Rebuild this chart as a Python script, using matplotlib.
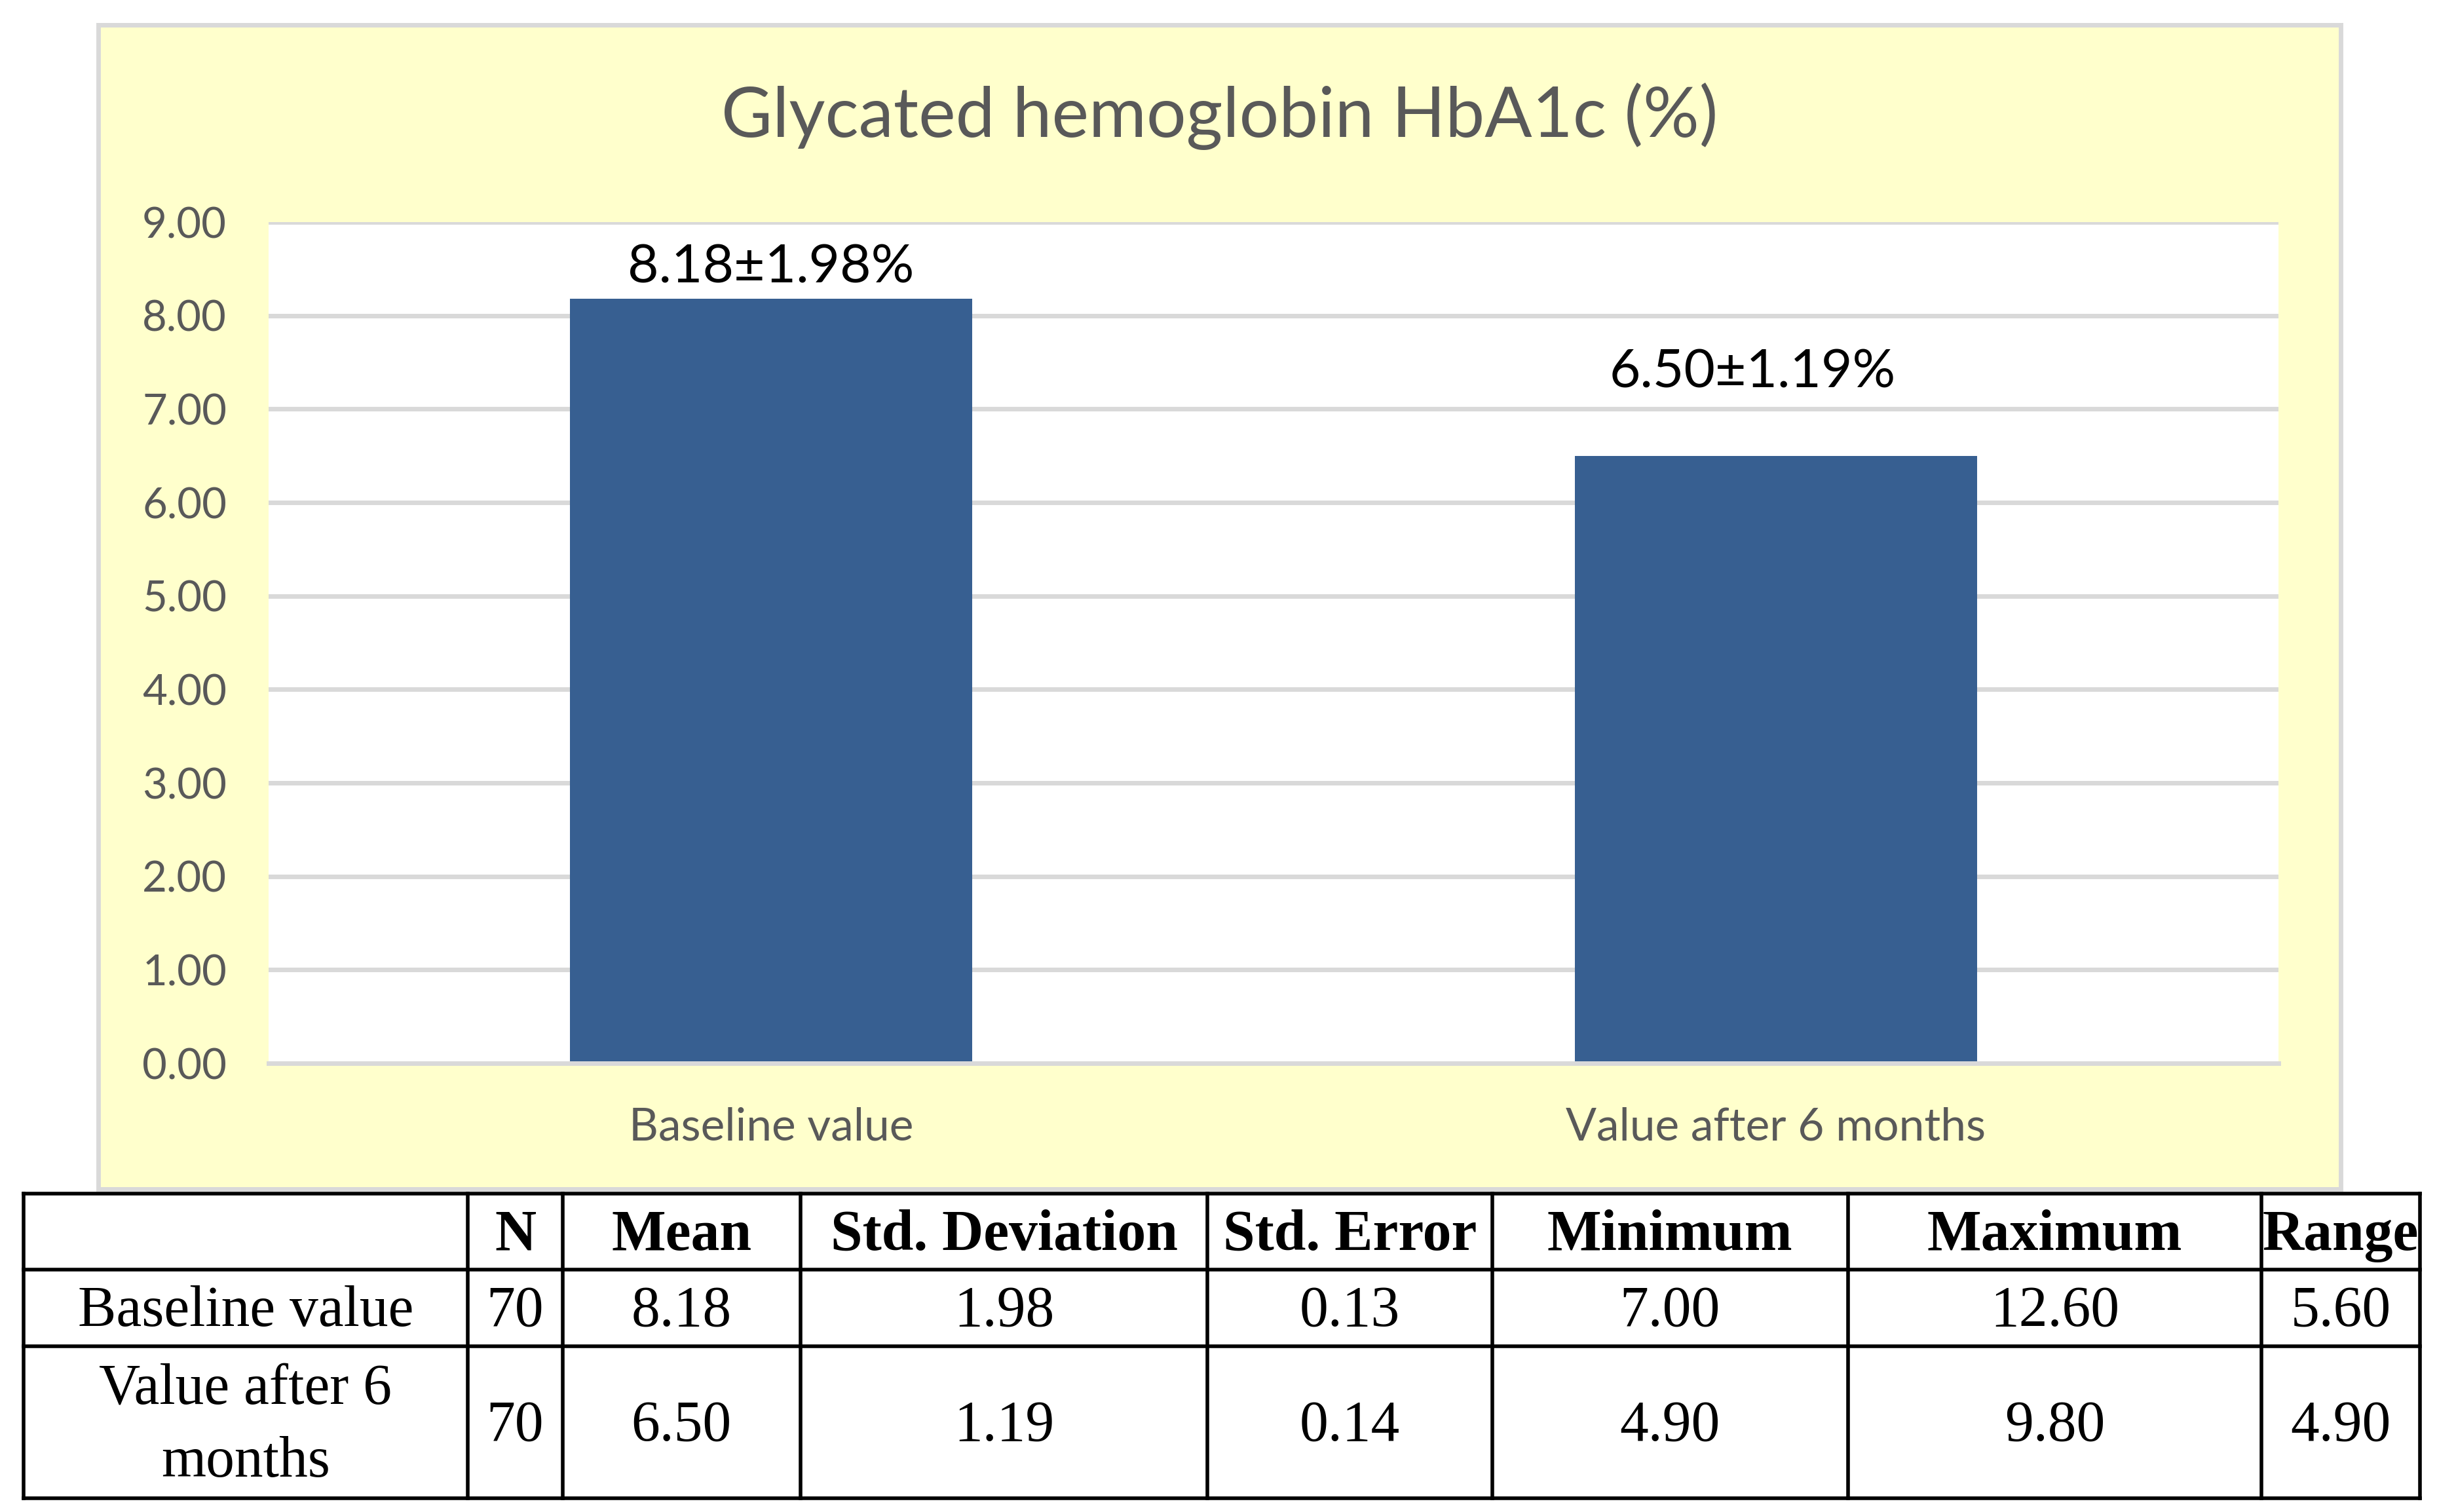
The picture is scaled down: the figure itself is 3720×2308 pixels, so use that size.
import matplotlib
matplotlib.use("Agg")
import matplotlib.pyplot as plt
from matplotlib.patches import Rectangle

# ---------------- data ----------------
categories = ["Baseline value", "Value after 6 months"]
means = [8.18, 6.50]
sds = [1.98, 1.19]
bar_labels = ["8.18±1.98%", "6.50±1.19%"]
yticks = [0, 1, 2, 3, 4, 5, 6, 7, 8, 9]
title = "Glycated hemoglobin HbA1c (%)"

table_header = ["", "N", "Mean", "Std. Deviation", "Std. Error", "Minimum", "Maximum", "Range"]
table_row_labels = ["Baseline value", "Value after 6\nmonths"]
table_n = ["70", "70"]
table_mean = ["8.18", "6.50"]
table_sd = ["1.98", "1.19"]
table_se = ["0.13", "0.14"]
table_min = ["7.00", "4.90"]
table_max = ["12.60", "9.80"]
table_range = ["5.60", "4.90"]

# ---------------- layout ----------------
W, H = 3720, 2308
DPI = 100
fig = plt.figure(figsize=(W / DPI, H / DPI), dpi=DPI)
fig.patch.set_facecolor("white")

def fx(px):
    return px / W

def fy(py):
    return 1 - py / H

chart_font = ["Lato", "DejaVu Sans"]
table_font = ["Liberation Serif", "DejaVu Serif"]
GRAY = "#D9D9D9"
TXT_GRAY = "#595959"
BAR = "#375F91"
YELLOW = "#FFFFCC"

# yellow chart box (drawn behind everything)
box = Rectangle((fx(150), fy(1815)), fx(3573) - fx(150), fy(38) - fy(1815),
                transform=fig.transFigure, facecolor=YELLOW, edgecolor=GRAY,
                linewidth=5, zorder=-10)
fig.patches.append(box)

fig.text(fx(1862), fy(178), title, ha="center", va="center",
         fontsize=77, color=TXT_GRAY, family=chart_font)

# plot area
L, R, T, B = 410, 3478, 339, 1623
ax = fig.add_axes([fx(L), fy(B), fx(R) - fx(L), fy(T) - fy(B)])
ax.set_zorder(2)
ax.set_facecolor("white")
x = list(range(len(categories)))
ax.bar(x, means, width=0.4, color=BAR, zorder=3)
ax.set_xlim(-0.5, len(categories) - 0.5)
ax.set_ylim(0, 9)
ax.set_yticks(yticks)
ax.set_yticklabels([f"{v:.2f}" for v in yticks], fontsize=47, color=TXT_GRAY,
                   family=chart_font)
ax.set_xticks(x)
ax.set_xticklabels(categories, fontsize=50, color=TXT_GRAY, family=chart_font)
ax.tick_params(axis="both", length=0)
ax.tick_params(axis="y", pad=46)
ax.tick_params(axis="x", pad=48)
ax.grid(axis="y", color=GRAY, linewidth=5, zorder=1)
ax.set_axisbelow(True)
for s in ["top", "right", "left"]:
    ax.spines[s].set_visible(False)
ax.spines["bottom"].set_color(GRAY)
ax.spines["bottom"].set_linewidth(5)
ax.spines["bottom"].set_zorder(4)

label_dx = [0.0, -0.023]
label_dy = [0.33, 0.89]
for i, (m, lab) in enumerate(zip(means, bar_labels)):
    ax.text(x[i] + label_dx[i], m + label_dy[i], lab, ha="center", va="center",
            fontsize=59, color="black", family=chart_font, zorder=5)

# ---------------- table ----------------
col_edges = [15, 301, 362, 515, 777, 960, 1189, 1455, 1557]
row_edges = [768, 817, 866, 964]
sc = W / 1568.0
col_px = [c * sc for c in col_edges]
row_px = [r * sc for r in row_edges]

tax = fig.add_axes([0, 0, 1, 1])
tax.set_zorder(1)
tax.set_xlim(0, W)
tax.set_ylim(H, 0)
tax.axis("off")

rows = [table_header]
for i in range(2):
    rows.append([table_row_labels[i], table_n[i], table_mean[i], table_sd[i],
                 table_se[i], table_min[i], table_max[i], table_range[i]])

LW = 4
for xp in col_px:
    tax.plot([xp, xp], [row_px[0], row_px[-1]], color="black", linewidth=LW,
             solid_capstyle="projecting")
for yp in row_px:
    tax.plot([col_px[0], col_px[-1]], [yp, yp], color="black", linewidth=LW,
             solid_capstyle="projecting")

for r, row in enumerate(rows):
    yc = (row_px[r] + row_px[r + 1]) / 2
    for c, txt in enumerate(row):
        xc = (col_px[c] + col_px[c + 1]) / 2
        tax.text(xc, yc + 6, txt, ha="center", va="center",
                 fontsize=63, family=table_font,
                 fontweight="bold" if r == 0 else "normal",
                 linespacing=1.5, color="black")

fig.savefig("out.png", dpi=DPI, facecolor="white")
